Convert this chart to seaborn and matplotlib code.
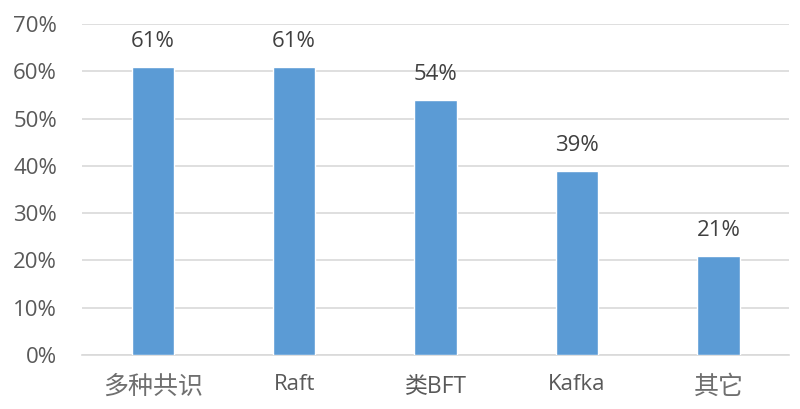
import matplotlib
matplotlib.use("Agg")
import matplotlib.pyplot as plt
import seaborn as sns
import pandas as pd

categories = ["多种共识", "Raft", "类BFT", "Kafka", "其它"]
values = [0.61, 0.61, 0.54, 0.39, 0.21]
labels = ["61%", "61%", "54%", "39%", "21%"]
yticks = [0, 0.1, 0.2, 0.3, 0.4, 0.5, 0.6, 0.7]
yticklabels = ["0%", "10%", "20%", "30%", "40%", "50%", "60%", "70%"]

sns.set_theme(style="white")
fams = ['Open Sans', 'Noto Sans CJK SC', 'DejaVu Sans']
plt.rcParams['font.family'] = fams

df = pd.DataFrame({"cat": categories, "val": values})

fig = plt.figure(figsize=(8, 4.09), dpi=100)
ax = fig.add_axes([0.1025, 0.132, 0.884, 0.809])
sns.barplot(data=df, x="cat", y="val", color="#5B9BD5", width=0.30,
            saturation=1, ax=ax, zorder=3)

ax.set_ylim(0, 0.7)
ax.set_xlim(-0.5, 4.5)
ax.set_yticks(yticks)
ax.set_yticklabels(yticklabels)
ax.yaxis.grid(True, color="#D9D9D9", linewidth=1.2, zorder=0)
ax.set_axisbelow(True)
for s in ["top", "right", "left"]:
    ax.spines[s].set_visible(False)
ax.spines["bottom"].set_color("#D9D9D9")
ax.spines["bottom"].set_linewidth(1.2)
ax.set_xlabel("")
ax.set_ylabel("")
ax.tick_params(axis="y", length=0, pad=18, labelsize=16, labelcolor="#595959")
ax.tick_params(axis="x", length=0, pad=14, labelsize=16, labelcolor="#595959")
for lab in ax.get_xticklabels():
    txt = lab.get_text()
    n_cjk = sum(1 for ch in txt if ord(ch) > 0x2E80)
    lab.set_family(fams)
    if n_cjk == len(txt):
        lab.set_fontsize(18)
        lab.set_fontweight("light")
        lab.set_color("#6F6F6F")
    elif n_cjk > 0:
        lab.set_fontsize(16.5)

for i, (v, t) in enumerate(zip(values, labels)):
    ax.annotate(t, (i, v), xytext=(0, 14), textcoords="offset points",
                ha="center", va="baseline", fontsize=16, color="#404040")

fig.savefig("out.png", dpi=100)
